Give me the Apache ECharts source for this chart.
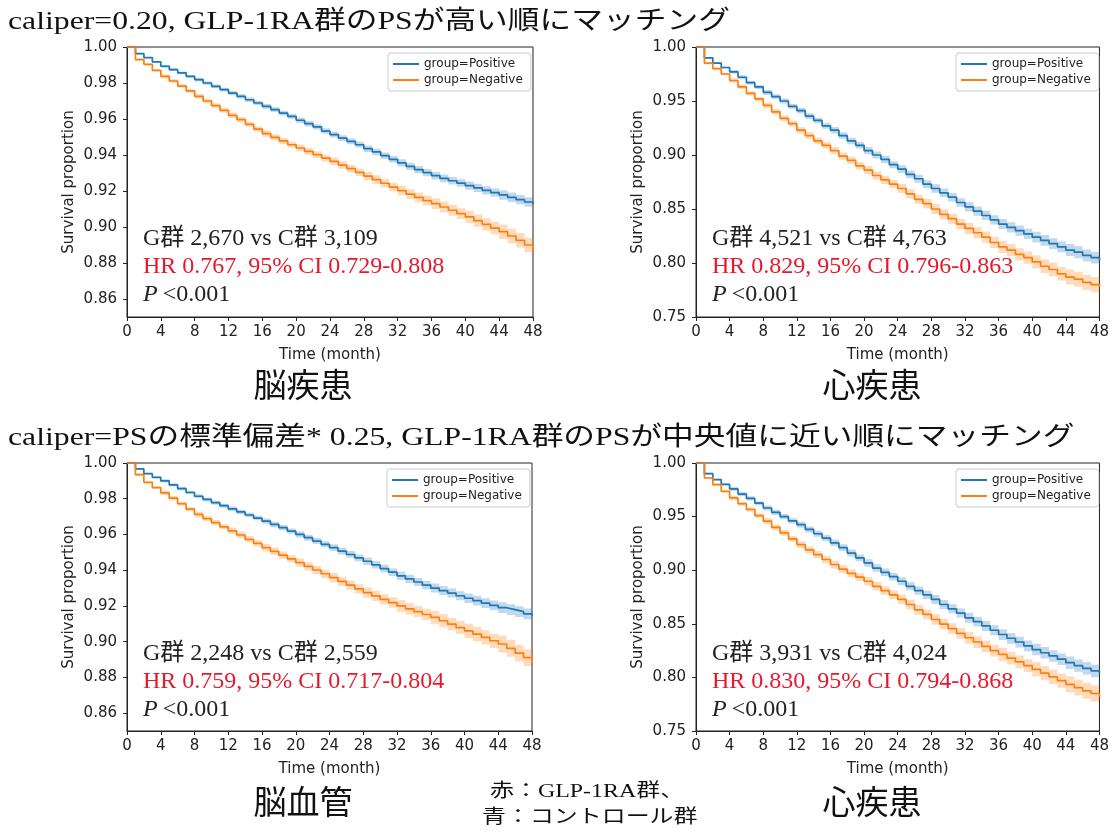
<!DOCTYPE html>
<html><head><meta charset="utf-8">
<script src="https://cdn.jsdelivr.net/npm/echarts@6/dist/echarts.min.js"></script>
<style>html,body{margin:0;padding:0;background:#fff}#c{width:1112px;height:836px}</style>
</head><body><div id="c"></div>
<script>
const months = [0,1,2,3,4,5,6,7,8,9,10,11,12,13,14,15,16,17,18,19,20,21,22,23,24,25,26,27,28,29,30,31,32,33,34,35,36,37,38,39,40,41,42,43,44,45,46,47,48];
const yTicksBrain = [0.86,0.88,0.90,0.92,0.94,0.96,0.98,1.00];
const yTicksHeart = [0.75,0.80,0.85,0.90,0.95,1.00];
const legendNames = ['group=Positive','group=Negative'];

// Panel 1: 脳疾患 (caliper 0.20)
const p1Pos = [1.0000,0.9963,0.9941,0.9917,0.9893,0.9874,0.9856,0.9837,0.9819,0.9800,0.9781,0.9763,0.9744,0.9726,0.9707,0.9689,0.9670,0.9652,0.9633,0.9615,0.9593,0.9574,0.9556,0.9533,0.9513,0.9494,0.9476,0.9457,0.9435,0.9417,0.9396,0.9376,0.9356,0.9337,0.9319,0.9302,0.9285,0.9270,0.9257,0.9244,0.9230,0.9217,0.9204,0.9191,0.9178,0.9165,0.9152,0.9139,0.9126];
const p1Neg = [1.0000,0.9930,0.9904,0.9870,0.9837,0.9811,0.9783,0.9756,0.9726,0.9700,0.9674,0.9648,0.9620,0.9596,0.9570,0.9544,0.9519,0.9498,0.9478,0.9457,0.9439,0.9420,0.9402,0.9383,0.9365,0.9344,0.9324,0.9304,0.9283,0.9263,0.9243,0.9222,0.9202,0.9183,0.9165,0.9146,0.9130,0.9111,0.9093,0.9074,0.9056,0.9035,0.9015,0.8994,0.8974,0.8950,0.8926,0.8900,0.8870];
const p1PosCI = [0.0003,0.0008,0.0010,0.0012,0.0013,0.0015,0.0016,0.0018,0.0020,0.0021,0.0023,0.0026,0.0030];
const p1NegCI = [0.0005,0.0010,0.0013,0.0015,0.0017,0.0019,0.0021,0.0024,0.0027,0.0030,0.0034,0.0040,0.0050];

// Panel 2: 心疾患 (caliper 0.20)
const p2Pos = [1.000,0.990,0.985,0.981,0.977,0.972,0.967,0.963,0.958,0.954,0.950,0.945,0.941,0.936,0.932,0.927,0.923,0.918,0.913,0.909,0.904,0.900,0.896,0.891,0.887,0.882,0.878,0.873,0.869,0.865,0.861,0.856,0.852,0.848,0.844,0.840,0.836,0.833,0.830,0.827,0.824,0.821,0.818,0.815,0.812,0.810,0.807,0.805,0.802];
const p2Neg = [1.000,0.985,0.980,0.975,0.969,0.963,0.957,0.952,0.946,0.940,0.934,0.929,0.923,0.918,0.913,0.909,0.904,0.899,0.895,0.890,0.886,0.881,0.877,0.873,0.869,0.864,0.859,0.855,0.850,0.845,0.841,0.836,0.832,0.828,0.824,0.819,0.815,0.812,0.808,0.805,0.801,0.797,0.794,0.790,0.787,0.785,0.782,0.780,0.778];
const p2PosCI = [0.0008,0.0018,0.0022,0.0026,0.0030,0.0033,0.0036,0.0040,0.0043,0.0047,0.0050,0.0055,0.0060];
const p2NegCI = [0.0010,0.0020,0.0026,0.0030,0.0034,0.0038,0.0042,0.0047,0.0052,0.0057,0.0062,0.0070,0.0078];

// Panel 3: 脳血管 (caliper SD*0.25)
const p3Pos = [1.0000,0.9967,0.9940,0.9920,0.9900,0.9878,0.9857,0.9835,0.9814,0.9796,0.9778,0.9761,0.9743,0.9726,0.9709,0.9692,0.9675,0.9656,0.9638,0.9619,0.9600,0.9582,0.9563,0.9545,0.9526,0.9507,0.9488,0.9469,0.9450,0.9430,0.9409,0.9389,0.9368,0.9351,0.9334,0.9317,0.9300,0.9286,0.9272,0.9257,0.9243,0.9230,0.9216,0.9203,0.9190,0.9179,0.9168,0.9156,0.9145];
const p3Neg = [1.0000,0.9935,0.9892,0.9862,0.9833,0.9803,0.9772,0.9742,0.9712,0.9689,0.9666,0.9643,0.9620,0.9597,0.9573,0.9550,0.9526,0.9505,0.9484,0.9463,0.9442,0.9421,0.9401,0.9380,0.9359,0.9338,0.9317,0.9296,0.9275,0.9256,0.9237,0.9219,0.9200,0.9184,0.9168,0.9152,0.9136,0.9117,0.9098,0.9079,0.9060,0.9042,0.9024,0.9005,0.8987,0.8962,0.8936,0.8911,0.8885];
const p3PosCI = [0.0004,0.0009,0.0011,0.0013,0.0015,0.0017,0.0019,0.0021,0.0023,0.0025,0.0027,0.0030,0.0034];
const p3NegCI = [0.0006,0.0012,0.0015,0.0018,0.0020,0.0023,0.0026,0.0029,0.0032,0.0036,0.0040,0.0047,0.0058];

// Panel 4: 心疾患 (caliper SD*0.25)
const p4Pos = [1.0000,0.9900,0.9845,0.9800,0.9758,0.9710,0.9670,0.9625,0.9580,0.9540,0.9500,0.9460,0.9425,0.9380,0.9340,0.9300,0.9255,0.9210,0.9160,0.9115,0.9068,0.9020,0.8980,0.8940,0.8897,0.8850,0.8810,0.8770,0.8727,0.8680,0.8640,0.8600,0.8556,0.8520,0.8480,0.8440,0.8400,0.8365,0.8330,0.8295,0.8260,0.8230,0.8200,0.8170,0.8137,0.8110,0.8085,0.8060,0.8037];
const p4Neg = [1.0000,0.9860,0.9798,0.9736,0.9674,0.9620,0.9566,0.9510,0.9457,0.9400,0.9348,0.9293,0.9239,0.9190,0.9146,0.9100,0.9053,0.9010,0.8970,0.8935,0.8897,0.8850,0.8810,0.8770,0.8727,0.8680,0.8630,0.8587,0.8540,0.8497,0.8455,0.8410,0.8370,0.8330,0.8290,0.8250,0.8214,0.8180,0.8145,0.8110,0.8075,0.8040,0.8005,0.7970,0.7935,0.7905,0.7875,0.7850,0.7820];
const p4PosCI = [0.0008,0.0019,0.0024,0.0028,0.0032,0.0035,0.0038,0.0042,0.0046,0.0050,0.0054,0.0058,0.0064];
const p4NegCI = [0.0010,0.0021,0.0027,0.0032,0.0036,0.0040,0.0045,0.0050,0.0055,0.0060,0.0066,0.0074,0.0082];

const sectionTitles = ['caliper=0.20, GLP-1RA群のPSが高い順にマッチング','caliper=PSの標準偏差* 0.25, GLP-1RA群のPSが中央値に近い順にマッチング'];
const panelNames = ['脳疾患','心疾患','脳血管','心疾患'];
const countTexts = ['G群 2,670 vs C群 3,109','G群 4,521 vs C群 4,763','G群 2,248 vs C群 2,559','G群 3,931 vs C群 4,024'];
const hrTexts = ['HR 0.767, 95% CI 0.729-0.808','HR 0.829, 95% CI 0.796-0.863','HR 0.759, 95% CI 0.717-0.804','HR 0.830, 95% CI 0.794-0.868'];
const pText = '<0.001';
const noteLines = ['赤：GLP-1RA群、','青：コントロール群'];

const BLUE = '#1f77b4', ORANGE = '#ff7f0e';
const SERIF = "'Liberation Serif','Noto Sans CJK JP',serif";
const SANS = "'DejaVu Sans',sans-serif";

const panels = [
  {pos:p1Pos, neg:p1Neg, posCI:p1PosCI, negCI:p1NegCI, ymin:0.85, ticks:yTicksBrain, grid:{left:127,top:47,width:406,height:270}},
  {pos:p2Pos, neg:p2Neg, posCI:p2PosCI, negCI:p2NegCI, ymin:0.75, ticks:yTicksHeart, grid:{left:696,top:47,width:405,height:270}},
  {pos:p3Pos, neg:p3Neg, posCI:p3PosCI, negCI:p3NegCI, ymin:0.85, ticks:yTicksBrain, grid:{left:127,top:463,width:405,height:268}},
  {pos:p4Pos, neg:p4Neg, posCI:p4PosCI, negCI:p4NegCI, ymin:0.75, ticks:yTicksHeart, grid:{left:696,top:463,width:405,height:268}}
];

function bandSeries(i, vals, ci, col){
  // each item: [month, lower, upper] for the step segment starting at that month
  const data = months.slice(0, months.length-1).map((m,k)=>{
    const h = ci[Math.floor(m/4)];
    return [m, vals[k]-h, Math.min(1, vals[k]+h)];
  });
  return {type:'custom', xAxisIndex:i, yAxisIndex:i, data:data, silent:true, z:1,
    encode:{x:0, y:[1,2]},
    renderItem:(params, api)=>{
      if (params.dataIndex !== 0) return null;
      const upper=[], lower=[];
      for (let k=0;k<data.length;k++){
        const m0 = data[k][0], m1 = months[k+1];
        upper.push(api.coord([m0, data[k][2]]), api.coord([m1, data[k][2]]));
        lower.push(api.coord([m0, data[k][1]]), api.coord([m1, data[k][1]]));
      }
      const pts = upper.concat(lower.reverse());
      return {type:'polygon', shape:{points:pts}, style:{fill:col, opacity:0.28}};
    }};
}

const grids=[], xAxes=[], yAxes=[], series=[], legends=[], graphics=[];
panels.forEach((p,i)=>{
  grids.push(Object.assign({show:true, borderColor:'#222', borderWidth:1, backgroundColor:'#fff'}, p.grid));
  xAxes.push({type:'value', gridIndex:i, min:0, max:48, interval:4,
    name:'Time (month)', nameLocation:'middle', nameGap:31,
    nameTextStyle:{fontFamily:SANS, fontSize:15, color:'#222'},
    axisLine:{show:true, onZero:false, lineStyle:{color:'#222'}},
    axisTick:{show:true, length:4, lineStyle:{color:'#222'}},
    axisLabel:{fontFamily:SANS, fontSize:15, color:'#222', margin:8},
    splitLine:{show:false}});
  yAxes.push({type:'value', gridIndex:i, min:p.ymin, max:1.0,
    name:'Survival proportion', nameLocation:'middle', nameGap:50,
    nameTextStyle:{fontFamily:SANS, fontSize:15, color:'#222'},
    axisLine:{show:true, lineStyle:{color:'#222'}},
    axisTick:{show:true, length:4, lineStyle:{color:'#222'}, customValues:p.ticks},
    axisLabel:{fontFamily:SANS, fontSize:15, color:'#222', margin:10, customValues:p.ticks, formatter:v=>v.toFixed(2)},
    splitLine:{show:false}});
  series.push(bandSeries(i, p.neg, p.negCI, ORANGE));
  series.push(bandSeries(i, p.pos, p.posCI, BLUE));
  [[p.pos,BLUE,'group=Positive'],[p.neg,ORANGE,'group=Negative']].forEach(([vals,col,nm])=>{
    series.push({type:'line', name:nm, xAxisIndex:i, yAxisIndex:i, data:months.map((m,k)=>[m,vals[k]]),
      step:'end', showSymbol:false, color:col, lineStyle:{width:1.7, color:col}, z:3});
  });
  legends.push({data:legendNames, orient:'vertical', left:p.grid.left+p.grid.width-145, top:p.grid.top+6,
    width:138, itemGap:4, itemWidth:26, itemHeight:2, icon:'rect',
    backgroundColor:'#fff', borderColor:'#ccc', borderWidth:1, borderRadius:3, padding:[5,8,5,5],
    textStyle:{fontFamily:SANS, fontSize:12, color:'#222'}, selectedMode:false});
  const tx = p.grid.left + 16;
  const ty = p.grid.top + (i<2 ? 192 : 191);
  graphics.push({type:'text', x:tx, y:ty, style:{text:countTexts[i], font:'24px '+SERIF, fill:'#222', verticalAlign:'middle'}, z:10});
  graphics.push({type:'text', x:tx, y:ty+28, style:{text:hrTexts[i], font:'24px '+SERIF, fill:'#e8182c', verticalAlign:'middle'}, z:10});
  graphics.push({type:'text', x:tx, y:ty+56, style:{text:'{i|P}{n|'+pText+'}', fill:'#222', verticalAlign:'middle',
    rich:{i:{fontFamily:SERIF, fontStyle:'italic', fontSize:24, padding:[0,5,0,0]}, n:{fontFamily:SERIF, fontSize:24}}}, z:10});
});

graphics.push({type:'text', x:8, y:22, scaleX:1.22, style:{text:sectionTitles[0], font:'26px '+SERIF, fill:'#111', verticalAlign:'middle'}});
graphics.push({type:'text', x:8, y:438, scaleX:1.22, style:{text:sectionTitles[1], font:'26px '+SERIF, fill:'#111', verticalAlign:'middle'}});
const labelPos = [[303,388],[872,388],[303,805],[872,805]];
panelNames.forEach((t,i)=>{
  graphics.push({type:'text', x:labelPos[i][0], y:labelPos[i][1], style:{text:t, font:'33px '+SERIF, fill:'#111', align:'center', verticalAlign:'middle'}});
});
graphics.push({type:'text', x:490, y:792, scaleX:1.26, style:{text:noteLines[0], font:'19px '+SERIF, fill:'#111', verticalAlign:'middle'}});
graphics.push({type:'text', x:482, y:818, scaleX:1.26, style:{text:noteLines[1], font:'19px '+SERIF, fill:'#111', verticalAlign:'middle'}});

const chart = echarts.init(document.getElementById('c'), null, {renderer:'canvas'});
chart.setOption({animation:false, backgroundColor:'#fff', grid:grids, xAxis:xAxes, yAxis:yAxes, series:series, legend:legends, graphic:graphics});
</script></body></html>
